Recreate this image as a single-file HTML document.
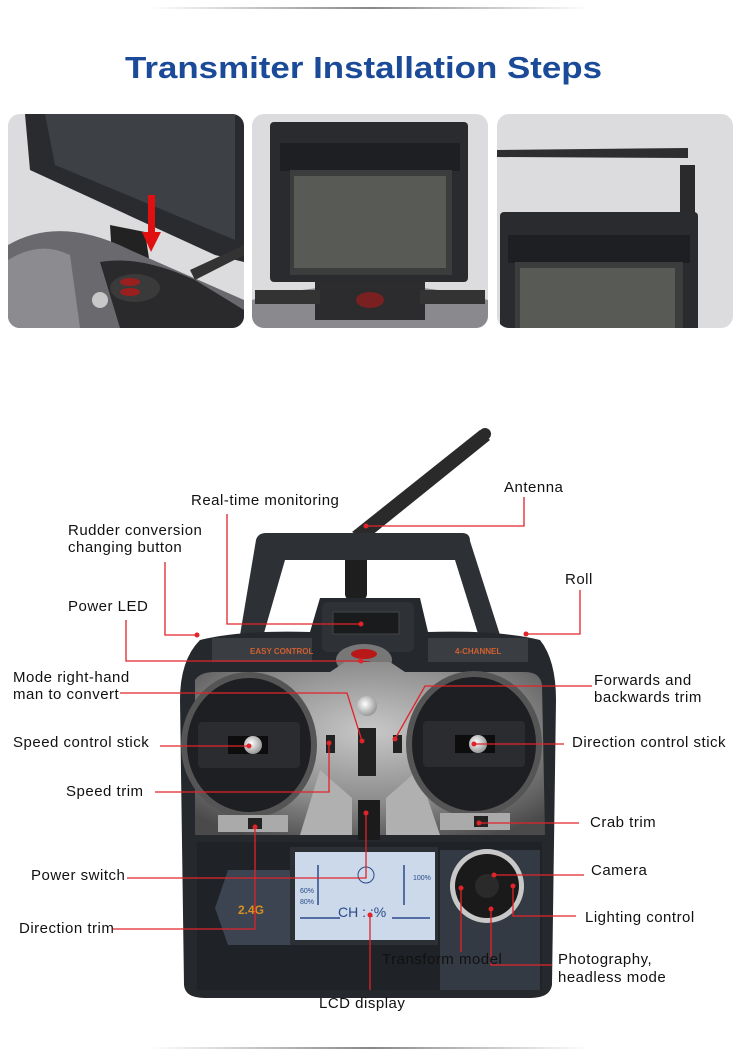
<!DOCTYPE html>
<html><head><meta charset="utf-8"><style>
html,body{margin:0;padding:0;background:#fff;}
body{width:740px;height:1058px;overflow:hidden;font-family:"Liberation Sans",sans-serif;}
</style></head><body>
<svg width="740" height="1058" viewBox="0 0 740 1058" xmlns="http://www.w3.org/2000/svg" font-family="Liberation Sans, sans-serif">
<defs>
<linearGradient id="tl" x1="0" x2="1"><stop offset="0" stop-color="#fff"/><stop offset=".5" stop-color="#888"/><stop offset="1" stop-color="#fff"/></linearGradient>
<radialGradient id="silver" cx=".5" cy=".4" r=".7"><stop offset="0" stop-color="#c8c8c8"/><stop offset=".6" stop-color="#8a8a8a"/><stop offset="1" stop-color="#4a4a4a"/></radialGradient>
<radialGradient id="knob" cx=".4" cy=".4" r=".6"><stop offset="0" stop-color="#fff"/><stop offset="1" stop-color="#999"/></radialGradient>
</defs>
<rect x="150" y="7" width="440" height="2" fill="url(#tl)"/>
<rect x="150" y="1047" width="440" height="2" fill="url(#tl)"/>
<text x="125" y="78" font-size="31" font-weight="bold" fill="#1a4a98" textLength="477" lengthAdjust="spacingAndGlyphs">Transmiter Installation Steps</text>

<!-- photo 1 -->
<rect x="8" y="114" width="236" height="214" rx="12" fill="#dcdcdf"/>
<clipPath id="c1"><rect x="8" y="114" width="236" height="214" rx="12"/></clipPath>
<g clip-path="url(#c1)">
<path d="M25 114 L244 114 L244 262 L215 255 L30 170 Z" fill="#2a2b2e"/>
<path d="M45 114 L235 114 L235 240 L55 165 Z" fill="#3d4045"/>
<path d="M110 225 L145 232 L150 265 L112 258 Z" fill="#222"/>
<path d="M8 245 Q60 215 130 250 L244 300 L244 328 L8 328 Z" fill="#6a6a6e"/>
<path d="M100 262 Q140 255 195 280 L244 310 L244 328 L120 328 Z" fill="#2a2a2c"/>
<ellipse cx="135" cy="288" rx="25" ry="14" fill="#3a3a3a"/>
<ellipse cx="130" cy="282" rx="10" ry="4" fill="#9a2020"/><ellipse cx="130" cy="292" rx="10" ry="4" fill="#9a2020"/>
<path d="M8 260 Q40 240 70 255 L80 328 L8 328 Z" fill="#8c8c90"/>
<circle cx="100" cy="300" r="8" fill="#c8c8c8"/>
<path d="M190 270 L244 245 L244 255 L195 280 Z" fill="#333"/>
<rect x="148" y="195" width="7" height="40" fill="#e01010"/>
<path d="M142 232 L161 232 L151 252 Z" fill="#e01010"/>
</g>
<!-- photo 2 -->
<rect x="252" y="114" width="236" height="214" rx="12" fill="#dcdcdf"/>
<clipPath id="c2"><rect x="252" y="114" width="236" height="214" rx="12"/></clipPath>
<g clip-path="url(#c2)">
<path d="M252 300 Q370 270 488 300 L488 328 L252 328 Z" fill="#8a8a8e"/>
<rect x="315" y="275" width="110" height="45" fill="#2c2c2e"/>
<rect x="255" y="290" width="65" height="14" fill="#333"/><rect x="420" y="290" width="65" height="14" fill="#333"/>
<ellipse cx="370" cy="300" rx="14" ry="8" fill="#7a2020"/>
<rect x="270" y="122" width="198" height="160" rx="4" fill="#2a2b2e"/>
<rect x="280" y="143" width="180" height="28" fill="#1e1f22"/>
<rect x="290" y="170" width="162" height="105" fill="#3b3d3c"/>
<rect x="294" y="176" width="152" height="92" fill="#585a55"/>
</g>
<!-- photo 3 -->
<rect x="497" y="114" width="236" height="214" rx="12" fill="#dcdcdf"/>
<clipPath id="c3"><rect x="497" y="114" width="236" height="214" rx="12"/></clipPath>
<g clip-path="url(#c3)">
<path d="M497 150 L688 148 L688 158 L497 157 Z" fill="#2e2e30"/>
<rect x="680" y="165" width="15" height="50" fill="#2a2a2c"/>
<rect x="500" y="212" width="198" height="120" rx="4" fill="#2a2b2e"/>
<rect x="508" y="235" width="182" height="28" fill="#1e1f22"/>
<rect x="515" y="262" width="168" height="70" fill="#3b3d3c"/>
<rect x="520" y="268" width="155" height="64" fill="#585a55"/>
</g>

<!-- controller -->
<g>
<path d="M352 532 L480 430 L490 440 L366 540 Z" fill="#2a2a2a"/>
<circle cx="485" cy="434" r="6" fill="#2a2a2a"/>
<rect x="345" y="540" width="22" height="60" rx="6" fill="#1e1e1e"/>
<path d="M256 540 Q258 533 266 533 L462 533 Q470 533 470 541 L500 635 L480 640 L455 560 L285 560 L262 640 L240 635 Z" fill="#2d3034"/>
<path d="M200 640 Q240 630 310 632 L320 598 L420 598 L428 632 Q500 630 540 640 Q556 660 556 700 L552 985 Q550 998 530 998 L205 998 Q185 998 184 985 L180 700 Q180 660 200 640 Z" fill="#25282c"/>
<rect x="322" y="602" width="92" height="50" rx="6" fill="#2e3136"/>
<rect x="333" y="612" width="66" height="22" fill="#1a1b1d" stroke="#444"/>
<rect x="212" y="638" width="100" height="24" fill="#3a3d42"/><rect x="428" y="638" width="100" height="24" fill="#3a3d42"/>
<text x="250" y="654" font-size="8" fill="#d06030" font-weight="bold">EASY CONTROL</text>
<text x="455" y="654" font-size="8" fill="#d06030" font-weight="bold">4-CHANNEL</text>
<ellipse cx="364" cy="660" rx="28" ry="16" fill="#777"/>
<ellipse cx="364" cy="654" rx="13" ry="5" fill="#b81818"/><ellipse cx="364" cy="666" rx="13" ry="5" fill="#b81818"/>
<path d="M195 680 Q200 672 215 672 L330 672 L345 662 L390 662 L405 672 L525 672 Q540 672 542 685 L545 835 L195 835 Z" fill="url(#silver)"/>
<path d="M320 770 L352 798 L352 835 L300 835 Z M418 770 L386 798 L386 835 L440 835 Z" fill="#b0b0b0"/>
<ellipse cx="249" cy="745" rx="68" ry="73" fill="#555"/>
<ellipse cx="249" cy="745" rx="62" ry="67" fill="#1e1f22"/>
<rect x="198" y="722" width="102" height="46" rx="4" fill="#2b2c2f"/>
<rect x="228" y="736" width="40" height="18" fill="#0d0d0e"/>
<circle cx="253" cy="745" r="9" fill="url(#knob)"/>
<ellipse cx="474" cy="744" rx="68" ry="73" fill="#555"/>
<ellipse cx="474" cy="744" rx="62" ry="67" fill="#1e1f22"/>
<rect x="423" y="721" width="102" height="46" rx="4" fill="#2b2c2f"/>
<rect x="455" y="735" width="40" height="18" fill="#0d0d0e"/>
<circle cx="478" cy="744" r="9" fill="url(#knob)"/>
<circle cx="367" cy="706" r="10" fill="url(#knob)"/>
<rect x="358" y="728" width="18" height="48" fill="#222"/>
<rect x="326" y="735" width="9" height="18" fill="#222"/><rect x="393" y="735" width="9" height="18" fill="#222"/>
<rect x="358" y="800" width="22" height="40" fill="#1b1b1b"/>
<rect x="218" y="815" width="70" height="17" fill="#aaa"/><rect x="248" y="818" width="14" height="11" fill="#222"/>
<rect x="440" y="813" width="70" height="17" fill="#aaa"/><rect x="474" y="816" width="14" height="11" fill="#222"/>
<rect x="197" y="842" width="345" height="148" fill="#1f2226"/>
<path d="M228 870 L290 870 L290 945 L228 945 L215 908 Z" fill="#3c4452"/>
<text x="238" y="914" font-size="12" fill="#d89020" font-weight="bold">2.4G</text>
<rect x="290" y="847" width="148" height="98" fill="#2c2f34"/>
<rect x="295" y="852" width="140" height="88" fill="#cbd9ea"/>
<path d="M300 918 L340 918 M392 918 L430 918 M318 865 L318 905 M404 865 L404 905" stroke="#2a4a8a" stroke-width="1.5"/>
<circle cx="366" cy="875" r="8" fill="none" stroke="#2a4a8a"/>
<text x="300" y="893" font-size="7" fill="#2a4a8a">60%</text><text x="300" y="904" font-size="7" fill="#2a4a8a">80%</text>
<text x="413" y="880" font-size="7" fill="#2a4a8a">100%</text>
<text x="338" y="917" font-size="14" fill="#2a4a8a">CH : :%</text>
<path d="M440 850 L540 850 L540 990 L440 990 Z" fill="#343a44"/>
<circle cx="487" cy="886" r="37" fill="#c8c8c8"/>
<circle cx="487" cy="886" r="32" fill="#1a1a1a"/>
<circle cx="487" cy="886" r="12" fill="#2a2a2a"/>
</g>

<g fill="none" stroke="#e0242a" stroke-width="1.3">
<path d="M524 497 V526 H366"/>
<path d="M227 514 V624 H361"/>
<path d="M165 562 V635 H197"/>
<path d="M126 620 V661 H361"/>
<path d="M580 590 V634 H526"/>
<path d="M120 693 H347 L362 741"/>
<path d="M592 686 H425 L395 739"/>
<path d="M160 746 H249"/>
<path d="M564 744 H474"/>
<path d="M155 792 H329 V743"/>
<path d="M579 823 H479"/>
<path d="M127 878 H366 V813"/>
<path d="M584 875 H494"/>
<path d="M576 916 H513 V886"/>
<path d="M113 929 H255 V827"/>
<path d="M461 952 V888"/>
<path d="M491 909 V965 H552"/>
<path d="M370 990 V915"/>
</g>
<g fill="#e0242a">
<circle cx="366" cy="526" r="2.5"/><circle cx="361" cy="624" r="2.5"/><circle cx="197" cy="635" r="2.5"/>
<circle cx="361" cy="661" r="2.5"/><circle cx="526" cy="634" r="2.5"/><circle cx="362" cy="741" r="2.5"/>
<circle cx="395" cy="739" r="2.5"/><circle cx="249" cy="746" r="2.5"/><circle cx="474" cy="744" r="2.5"/>
<circle cx="329" cy="743" r="2.5"/><circle cx="479" cy="823" r="2.5"/><circle cx="366" cy="813" r="2.5"/>
<circle cx="494" cy="875" r="2.5"/><circle cx="513" cy="886" r="2.5"/><circle cx="255" cy="827" r="2.5"/>
<circle cx="461" cy="888" r="2.5"/><circle cx="491" cy="909" r="2.5"/><circle cx="370" cy="915" r="2.5"/>
</g>

<g font-size="15" fill="#111" letter-spacing="0.5">
<text x="191" y="505">Real-time monitoring</text>
<text x="504" y="492">Antenna</text>
<text x="68" y="535">Rudder conversion</text>
<text x="68" y="552">changing button</text>
<text x="565" y="584">Roll</text>
<text x="68" y="611">Power LED</text>
<text x="13" y="682">Mode right-hand</text>
<text x="13" y="699">man to convert</text>
<text x="594" y="685">Forwards and</text>
<text x="594" y="702">backwards trim</text>
<text x="13" y="747">Speed control stick</text>
<text x="572" y="747">Direction control stick</text>
<text x="66" y="796">Speed trim</text>
<text x="590" y="827">Crab trim</text>
<text x="31" y="880">Power switch</text>
<text x="591" y="875">Camera</text>
<text x="585" y="922">Lighting control</text>
<text x="19" y="933">Direction trim</text>
<text x="382" y="964">Transform model</text>
<text x="558" y="964">Photography,</text>
<text x="558" y="982">headless mode</text>
<text x="319" y="1008">LCD display</text>
</g>
</svg>
</body></html>
